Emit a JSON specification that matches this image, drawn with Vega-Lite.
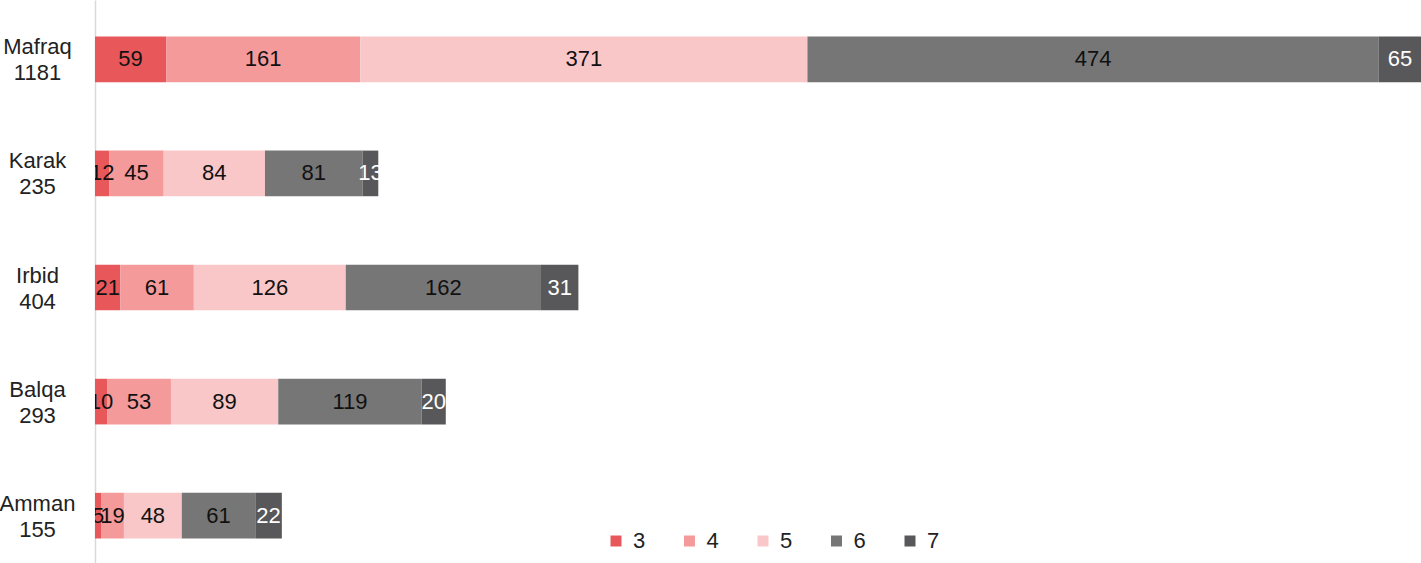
{
  "$schema": "https://vega.github.io/schema/vega-lite/v6.json",
  "autosize": {"type": "none"},
  "padding": {"left": 95, "top": 0, "right": 0, "bottom": 0},
  "width": 1326,
  "height": 575,
  "background": "white",
  "config": {"view": {"stroke": null}, "font": "Liberation Sans"},
  "data": {"values": [
    {"label": "Mafraq|1181", "cat": "3", "value": 59},
    {"label": "Mafraq|1181", "cat": "4", "value": 161},
    {"label": "Mafraq|1181", "cat": "5", "value": 371},
    {"label": "Mafraq|1181", "cat": "6", "value": 474},
    {"label": "Mafraq|1181", "cat": "7", "value": 65},
    {"label": "Karak|235", "cat": "3", "value": 12},
    {"label": "Karak|235", "cat": "4", "value": 45},
    {"label": "Karak|235", "cat": "5", "value": 84},
    {"label": "Karak|235", "cat": "6", "value": 81},
    {"label": "Karak|235", "cat": "7", "value": 13},
    {"label": "Irbid|404", "cat": "3", "value": 21},
    {"label": "Irbid|404", "cat": "4", "value": 61},
    {"label": "Irbid|404", "cat": "5", "value": 126},
    {"label": "Irbid|404", "cat": "6", "value": 162},
    {"label": "Irbid|404", "cat": "7", "value": 31},
    {"label": "Balqa|293", "cat": "3", "value": 10},
    {"label": "Balqa|293", "cat": "4", "value": 53},
    {"label": "Balqa|293", "cat": "5", "value": 89},
    {"label": "Balqa|293", "cat": "6", "value": 119},
    {"label": "Balqa|293", "cat": "7", "value": 20},
    {"label": "Amman|155", "cat": "3", "value": 5},
    {"label": "Amman|155", "cat": "4", "value": 19},
    {"label": "Amman|155", "cat": "5", "value": 48},
    {"label": "Amman|155", "cat": "6", "value": 61},
    {"label": "Amman|155", "cat": "7", "value": 22}
  ]},
  "transform": [
    {"stack": "value", "groupby": ["label"], "sort": [{"field": "cat", "order": "ascending"}], "as": ["x0", "x1"]},
    {"calculate": "min((datum.x0 + datum.x1) / 2, (datum.x0 + 1100) / 2)", "as": "mid"}
  ],
  "encoding": {
    "y": {
      "field": "label", "type": "nominal", "sort": null, "title": null,
      "scale": {"paddingInner": 0.6, "paddingOuter": 0.32},
      "axis": {
        "labelExpr": "split(datum.value, '|')",
        "labelAlign": "center", "labelBaseline": "middle", "labelPadding": 58,
        "labelOffset": -12,
        "labelFontSize": 22, "labelLineHeight": 26, "labelColor": "#222222",
        "labelFont": "Liberation Sans",
        "ticks": false, "domainColor": "#d9d9d9", "domainWidth": 1.5, "grid": false
      }
    }
  },
  "layer": [
    {
      "mark": {"type": "bar", "clip": true},
      "encoding": {
        "x": {"field": "x0", "type": "quantitative", "scale": {"domain": [0, 1100], "nice": false, "zero": true}, "axis": null},
        "x2": {"field": "x1"},
        "color": {
          "field": "cat", "type": "nominal", "title": null,
          "scale": {"domain": ["3", "4", "5", "6", "7"], "range": ["#e8585b", "#f49a9b", "#f9c7c8", "#767676", "#58585a"]},
          "legend": {
            "orient": "none", "legendX": 510, "legendY": 530, "direction": "horizontal",
            "symbolType": "square", "symbolSize": 121, "symbolStrokeWidth": 0,
            "labelFontSize": 22, "labelFont": "Liberation Sans", "labelColor": "#222222",
            "labelOffset": 6, "columnPadding": 32.5, "padding": 0
          }
        }
      }
    },
    {
      "mark": {"type": "text", "fontSize": 22, "font": "Liberation Sans", "baseline": "middle", "align": "center", "clip": true},
      "encoding": {
        "x": {"field": "mid", "type": "quantitative"},
        "text": {"field": "value", "type": "quantitative"},
        "color": {"condition": {"test": "datum.cat == '7'", "value": "white"}, "value": "#111111"}
      }
    }
  ]
}
